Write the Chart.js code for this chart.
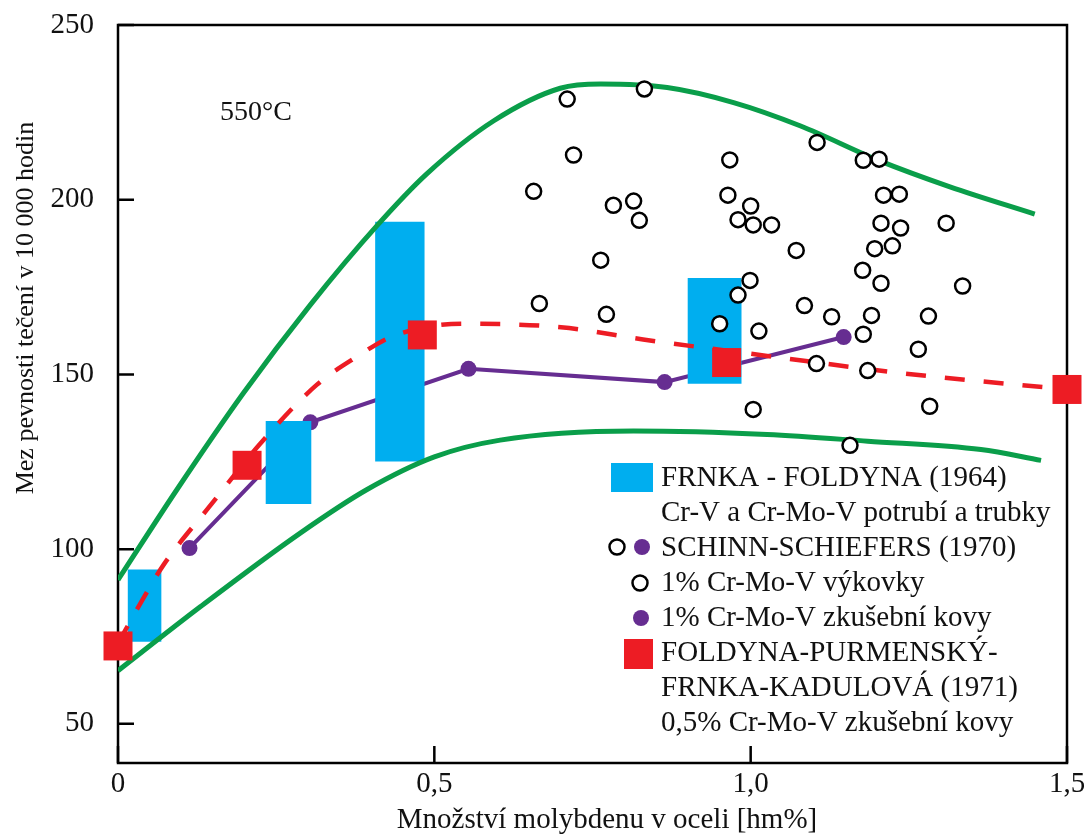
<!DOCTYPE html>
<html>
<head>
<meta charset="utf-8">
<title>Mez pevnosti tečení</title>
<script src="https://cdn.jsdelivr.net/npm/chart.js@4.4.1/dist/chart.umd.min.js"></script>
<style>
  html, body { margin: 0; padding: 0; background: #fff; }
  canvas { display: block; }
</style>
</head>
<body>
<canvas id="creepChart" width="1084" height="839"></canvas>
<script>
// green envelope curves
const upperX = [0, 0.093, 0.198, 0.304, 0.409, 0.488, 0.594, 0.699, 0.763, 0.868, 0.973, 1.079, 1.203, 1.315, 1.449];
const upperY = [91.2, 117, 144.6, 169.9, 192.5, 207.4, 222.6, 231.9, 233.1, 232.1, 227.8, 221.1, 211.2, 203.7, 195.9];
const lowerX = [0, 0.13, 0.288, 0.393, 0.5, 0.604, 0.815, 1.026, 1.185, 1.364, 1.459];
const lowerY = [65.2, 83.5, 104.6, 117, 126.4, 131.2, 133.8, 132.8, 130.9, 128.5, 125.4];

// FRNKA - FOLDYNA (1964): Mo range and strength range
const bandFrom = [0.016, 0.234, 0.407, 0.901];
const bandTo = [0.068, 0.305, 0.484, 0.985];
const bandLow = [73.6, 113.0, 125.2, 147.4];
const bandHigh = [94.1, 136.6, 193.6, 177.5];

// SCHINN-SCHIEFERS (1970), forgings (open circles)
const forgingX = [0.657, 0.666, 0.710, 0.720, 0.763, 0.772, 0.783, 0.815, 0.824, 0.832,
  0.967, 1.105, 1.178, 1.203, 0.964, 1.000, 0.980, 1.004, 1.033, 1.072,
  1.210, 1.235, 1.206, 1.237, 1.309, 1.196, 1.224, 1.177, 1.206, 1.335,
  0.999, 0.980, 0.951, 1.013, 1.085, 1.128, 1.191, 1.281, 1.178, 1.265,
  1.104, 1.185, 1.004, 1.283, 1.157];
const forgingY = [202.4, 170.3, 228.8, 212.8, 182.7, 167.2, 198.4, 199.6, 194.1, 231.7,
  211.4, 216.4, 211.3, 211.6, 201.3, 198.2, 194.3, 192.8, 192.8, 185.5,
  201.3, 201.6, 193.3, 191.9, 193.3, 186.0, 186.8, 179.8, 176.1, 175.3,
  176.9, 172.7, 164.5, 162.4, 169.7, 166.5, 166.9, 166.7, 161.5, 157.2,
  153.1, 151.1, 140.0, 140.9, 129.7];

// SCHINN-SCHIEFERS (1970), test melts (purple)
const meltX = [0.113, 0.304, 0.554, 0.864, 1.147];
const meltY = [100.3, 136.3, 151.6, 147.8, 160.7];

// FOLDYNA-PURMENSKÝ-FRNKA-KADULOVÁ (1971)
const squareX = [0, 0.204, 0.481, 0.962, 1.5];
const squareY = [72.3, 124.0, 161.3, 153.4, 145.7];
const trendX = [0, 0.037, 0.072, 0.146, 0.224, 0.314, 0.377, 0.435, 0.546, 0.7, 0.83, 1.026, 1.232, 1.5];
const trendY = [73, 85, 95.5, 112.5, 130, 147, 155, 161, 164.5, 163.5, 160, 155.3, 150.5, 145.7];

const xTicks = [0, 0.5, 1.0, 1.5];
const xTickLabels = ['0', '0,5', '1,0', '1,5'];
const yTicks = [50, 100, 150, 200, 250];

const xTitle = 'Množství molybdenu v oceli [hm%]';
const yTitle = 'Mez pevnosti tečení v 10 000 hodin';
const tempLabel = '550°C';
const legendLines = [
  'FRNKA - FOLDYNA (1964)',
  'Cr-V a Cr-Mo-V potrubí a trubky',
  'SCHINN-SCHIEFERS (1970)',
  '1% Cr-Mo-V výkovky',
  '1% Cr-Mo-V zkušební kovy',
  'FOLDYNA-PURMENSKÝ-',
  'FRNKA-KADULOVÁ (1971)',
  '0,5% Cr-Mo-V zkušební kovy'
];

const GREEN = '#0a9e4a';
const BLUE = '#00aeef';
const RED = '#ed1c24';
const PURPLE = '#662d91';
const FONT = '"Liberation Serif", "Times New Roman", serif';

const pts = (xs, ys) => xs.map((x, i) => ({ x: x, y: ys[i] }));

function openCircle(ctx, x, y) {
  ctx.beginPath();
  ctx.arc(x, y, 7.5, 0, Math.PI * 2);
  ctx.fillStyle = '#fff';
  ctx.fill();
  ctx.lineWidth = 2.5;
  ctx.strokeStyle = '#000';
  ctx.stroke();
}

function purpleDot(ctx, x, y) {
  ctx.beginPath();
  ctx.arc(x, y, 8, 0, Math.PI * 2);
  ctx.fillStyle = PURPLE;
  ctx.fill();
}

// frame with inward ticks, drawn under the data
const framePlugin = {
  id: 'frame',
  beforeDatasetsDraw(chart) {
    const { ctx, chartArea: a, scales: { x, y } } = chart;
    ctx.save();
    ctx.strokeStyle = '#000';
    ctx.lineWidth = 2.5;
    ctx.strokeRect(a.left, a.top, a.right - a.left, a.bottom - a.top);
    ctx.beginPath();
    yTicks.forEach(v => {
      const py = y.getPixelForValue(v);
      ctx.moveTo(a.left, py);
      ctx.lineTo(a.left + 16, py);
    });
    xTicks.forEach(v => {
      const px = x.getPixelForValue(v);
      ctx.moveTo(px, a.bottom);
      ctx.lineTo(px, a.bottom - 17);
    });
    ctx.stroke();
    ctx.restore();
  }
};

// titles, temperature note and the legend block
const textPlugin = {
  id: 'texts',
  afterDraw(chart) {
    const ctx = chart.ctx;
    ctx.save();
    ctx.fillStyle = '#111';
    ctx.textBaseline = 'alphabetic';

    ctx.font = '28px ' + FONT;
    ctx.textAlign = 'left';
    ctx.fillText(tempLabel, 220, 120);

    ctx.font = '29px ' + FONT;
    ctx.textAlign = 'center';
    ctx.fillText(xTitle, 607, 828);

    ctx.save();
    ctx.font = '26px ' + FONT;
    ctx.translate(33, 308);
    ctx.rotate(-Math.PI / 2);
    ctx.fillText(yTitle, 0, 0);
    ctx.restore();

    // legend
    ctx.font = '29px ' + FONT;
    ctx.textAlign = 'left';
    legendLines.forEach((t, i) => ctx.fillText(t, 661, 486 + i * 35));

    ctx.fillStyle = BLUE;
    ctx.fillRect(611, 463, 42, 29);
    openCircle(ctx, 617, 547);
    purpleDot(ctx, 642, 547);
    openCircle(ctx, 640, 583);
    purpleDot(ctx, 641, 618);
    ctx.fillStyle = RED;
    ctx.fillRect(624, 639, 29, 30);
    ctx.restore();
  }
};

const bandSets = bandFrom.map((from, i) => ({
  type: 'bar',
  data: [{ x: (from + bandTo[i]) / 2, y: [bandLow[i], bandHigh[i]] }],
  backgroundColor: BLUE,
  borderWidth: 0,
  stack: 'bands',
  barThickness: (c) => {
    const s = c.chart.scales.x;
    const w = s.getPixelForValue(bandTo[i]) - s.getPixelForValue(from);
    return isFinite(w) && w > 0 ? w : 40;
  },
  order: 5
}));

const ctx = document.getElementById('creepChart').getContext('2d');
const creepChart = new Chart(ctx, {
  type: 'scatter',
  data: {
    datasets: [
      {
        type: 'line',
        data: pts(meltX, meltY),
        borderColor: PURPLE,
        borderWidth: 4,
        tension: 0,
        pointRadius: 8,
        pointBorderWidth: 0,
        pointBackgroundColor: PURPLE,
        order: 6
      },
      ...bandSets,
      {
        type: 'line',
        data: pts(upperX, upperY),
        borderColor: GREEN,
        borderWidth: 5,
        cubicInterpolationMode: 'monotone',
        pointRadius: 0,
        order: 4
      },
      {
        type: 'line',
        data: pts(lowerX, lowerY),
        borderColor: GREEN,
        borderWidth: 5,
        cubicInterpolationMode: 'monotone',
        pointRadius: 0,
        order: 4
      },
      {
        type: 'line',
        data: pts(trendX, trendY),
        borderColor: RED,
        borderWidth: 4.5,
        borderDash: [20, 19],
        cubicInterpolationMode: 'monotone',
        pointRadius: 0,
        order: 3
      },
      {
        data: pts(forgingX, forgingY),
        pointRadius: 7.5,
        pointBorderWidth: 2.5,
        pointBorderColor: '#000',
        pointBackgroundColor: '#fff',
        clip: false,
        order: 2
      },
      {
        data: pts(squareX, squareY),
        pointStyle: 'rect',
        pointRadius: 20.5,
        pointBorderWidth: 0,
        pointBackgroundColor: RED,
        clip: false,
        order: 1
      }
    ]
  },
  options: {
    responsive: false,
    animation: false,
    devicePixelRatio: 1,
    events: [],
    layout: { autoPadding: false, padding: { left: 0, top: 25, right: 17, bottom: 0 } },
    plugins: {
      legend: { display: false },
      tooltip: { enabled: false }
    },
    scales: {
      x: {
        type: 'linear',
        min: 0,
        max: 1.5,
        offset: false,
        grid: { display: false, offset: false },
        border: { display: false },
        afterFit: s => {
          s.height = 76;
          s.paddingLeft = 0;
          s.paddingRight = 0;
        },
        afterBuildTicks: s => { s.ticks = xTicks.map(v => ({ value: v })); },
        ticks: {
          autoSkip: false,
          maxRotation: 0,
          padding: -4,
          color: '#111',
          font: { family: FONT, size: 29 },
          callback: (v, i) => xTickLabels[i]
        }
      },
      y: {
        min: 38.8,
        max: 250,
        stacked: false,
        beginAtZero: false,
        grid: { display: false },
        border: { display: false },
        afterFit: s => {
          s.width = 118;
          s.paddingTop = 0;
          s.paddingBottom = 0;
        },
        afterBuildTicks: s => { s.ticks = yTicks.map(v => ({ value: v })); },
        ticks: {
          padding: 16,
          color: '#111',
          font: { family: FONT, size: 29 }
        }
      }
    }
  },
  plugins: [framePlugin, textPlugin]
});
</script>
</body>
</html>
